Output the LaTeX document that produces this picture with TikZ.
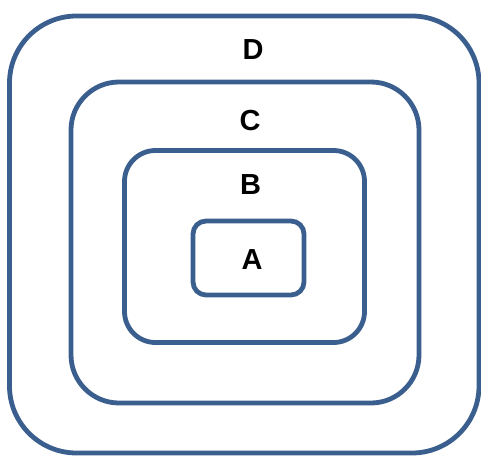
\documentclass[tikz,border=0pt]{standalone}
\usepackage{fontspec}
\setmainfont{Liberation Sans}
\definecolor{boxblue}{HTML}{3A5F8F}
\begin{document}
\begin{tikzpicture}[x=1pt,y=-1pt,
  layer/.style={draw=boxblue, line width=4.8pt, fill=none, inner sep=0pt, rectangle},
  lbl/.style={font=\fontsize{29}{31}\selectfont\bfseries, inner sep=0pt, anchor=center}]
\useasboundingbox (0,0) rectangle (481,455);
\node[layer, minimum width=469.5pt, minimum height=437pt, rounded corners=67pt] (D) at (244.25,234.5) {};
\node[layer, minimum width=348pt, minimum height=321pt, rounded corners=48pt] (C) at (245,242.5) {};
\node[layer, minimum width=240pt, minimum height=192pt, rounded corners=31pt] (B) at (244.5,246.5) {};
\node[layer, minimum width=111pt, minimum height=74pt, rounded corners=13pt] (A) at (248.5,258) {};
\node[lbl] (dl) at (253,50) {D};
\node[lbl] (cl) at (250,121) {C};
\node[lbl] (bl) at (250.5,185) {B};
\node[lbl] (al) at (252,260) {A};
\end{tikzpicture}
\end{document}
